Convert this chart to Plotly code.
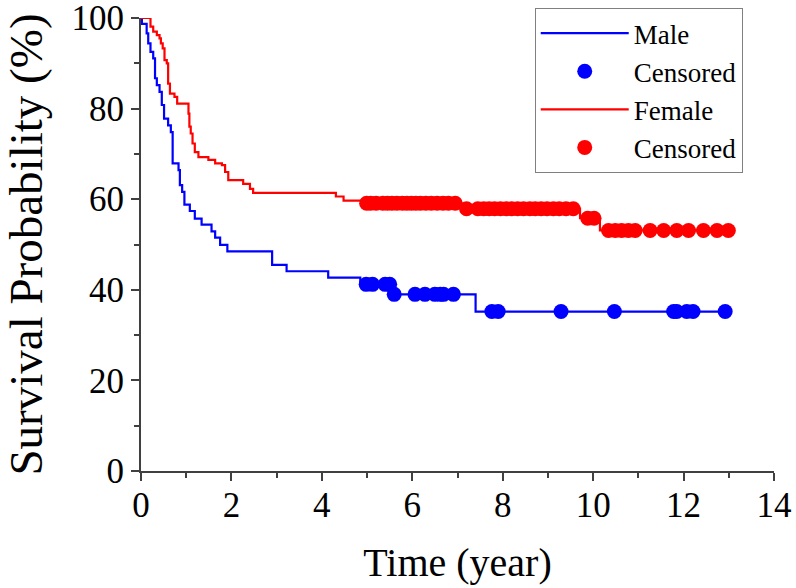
import numpy as np
import plotly.graph_objects as go

# Male (Kaplan-Meier step data: event times and survival % after each event)
male_t = [0, 0.02, 0.125, 0.16, 0.21, 0.27, 0.31, 0.35, 0.41, 0.46, 0.51, 0.60, 0.66, 0.70,
          0.83, 0.86, 0.91, 0.96, 1.08, 1.19, 1.34, 1.56, 1.64, 1.75, 1.91, 2.90, 3.22,
          4.14, 4.85, 5.55, 7.40]
male_s = [100, 98.7, 96.6, 94.4, 92.5, 91.1, 86.7, 85.2, 83.7, 80.8, 77.8, 76.3, 74.8, 67.9,
          66.4, 63.1, 61.6, 58.8, 57.4, 55.7, 54.4, 52.9, 51.5, 49.9, 48.5, 45.5, 44.1,
          42.7, 41.2, 39.0, 35.2]
male_cens_t = [4.98, 5.12, 5.40, 5.50, 5.60, 6.06, 6.28, 6.50, 6.62, 6.69, 6.91, 7.76, 7.90,
               9.29, 10.47, 11.78, 11.85, 12.07, 12.21, 12.92]

# Female
female_t = [0, 0.21, 0.27, 0.35, 0.41, 0.44, 0.48, 0.52, 0.57, 0.60, 0.64, 0.74, 0.80, 1.05,
            1.07, 1.10, 1.14, 1.19, 1.27, 1.49, 1.64, 1.79, 1.86, 1.93, 2.26, 2.41, 2.48,
            4.31, 4.48, 4.88, 7.09, 9.71, 10.15]
female_s = [100, 98.1, 97.0, 96.2, 95.5, 94.4, 93.3, 90.7, 90.0, 85.5, 83.3, 82.6, 81.1, 78.9,
            76.0, 74.5, 72.3, 70.4, 69.3, 68.7, 67.9, 67.5, 66.0, 64.2, 63.4, 62.3, 61.4,
            60.6, 59.7, 59.1, 57.9, 55.8, 53.1]
female_cens_t = [4.99, 5.08, 5.20, 5.35, 5.45, 5.55, 5.66, 5.78, 5.88, 5.98, 6.08, 6.18, 6.30,
                 6.42, 6.55, 6.68, 6.80, 6.95,
                 7.20, 7.45, 7.58, 7.70, 7.82, 7.95, 8.08, 8.20, 8.33, 8.46, 8.60, 8.72,
                 8.85, 8.98, 9.12, 9.25, 9.40, 9.56,
                 9.88, 10.02,
                 10.34, 10.49, 10.63, 10.78, 10.93, 11.26, 11.56, 11.85, 12.11, 12.44,
                 12.74, 12.99]

x_ticks = [0, 2, 4, 6, 8, 10, 12, 14]
y_ticks = [0, 20, 40, 60, 80, 100]


def level_at(times, surv, t):
    idx = np.searchsorted(np.array(times), t, side="right") - 1
    return [surv[i] for i in idx]


def step_line(times, surv, cens):
    end = max(cens)
    return list(times) + [end], list(surv) + [surv[-1]]


FONT = "Liberation Serif, Times New Roman, serif"
BLUE = "#0000FF"
RED = "#FF0000"

fig = go.Figure()

mx, my = step_line(male_t, male_s, male_cens_t)
fig.add_trace(go.Scatter(x=mx, y=my, mode="lines", line=dict(color=BLUE, width=2.2, shape="hv"),
                         name="Male"))
fig.add_trace(go.Scatter(x=male_cens_t, y=level_at(male_t, male_s, male_cens_t), mode="markers",
                         marker=dict(color=BLUE, size=15), name="Censored"))

fx, fy = step_line(female_t, female_s, female_cens_t)
fig.add_trace(go.Scatter(x=fx, y=fy, mode="lines", line=dict(color=RED, width=2.2, shape="hv"),
                         name="Female"))
fig.add_trace(go.Scatter(x=female_cens_t, y=level_at(female_t, female_s, female_cens_t),
                         mode="markers", marker=dict(color=RED, size=15), name="Censored"))

axis_common = dict(
    automargin=False, ticklabeloverflow="allow",
    showgrid=False, zeroline=False, showline=True, linecolor="#404040", linewidth=2,
    ticks="outside", ticklen=8, tickwidth=1.5, tickcolor="#404040",
    tickfont=dict(family=FONT, size=35, color="black"),
    minor=dict(ticks="outside", ticklen=5, tickwidth=1.5, tickcolor="#404040"),
)

fig.update_xaxes(range=[0, 14], tickvals=x_ticks, ticktext=[str(v) for v in x_ticks],
                 minor_dtick=1, ticklabelstandoff=-6,
                 title=dict(text="Time (year)", font=dict(family=FONT, size=40, color="black"),
                            standoff=24),
                 **axis_common)
fig.update_yaxes(range=[0, 100], tickvals=y_ticks, ticktext=[str(v) for v in y_ticks],
                 minor_dtick=10,
                 title=dict(text="Survival Probability (%)",
                            font=dict(family=FONT, size=47, color="black"), standoff=51),
                 **axis_common)

fig.update_layout(
    width=796, height=588,
    margin=dict(l=141, r=22, t=18, b=117, autoexpand=False),
    paper_bgcolor="white", plot_bgcolor="white",
    showlegend=True,
    legend=dict(x=0.622, y=1.022, xanchor="left", yanchor="top",
                font=dict(family=FONT, size=27, color="black"),
                bgcolor="white", bordercolor="#808080", borderwidth=1,
                tracegroupgap=0, itemwidth=88),
)

# remove the page's default 8px body margin so the figure sits at the window origin
fig.write_html("out.html", config={"displayModeBar": False},
               post_script="document.body.style.margin='0px';")
